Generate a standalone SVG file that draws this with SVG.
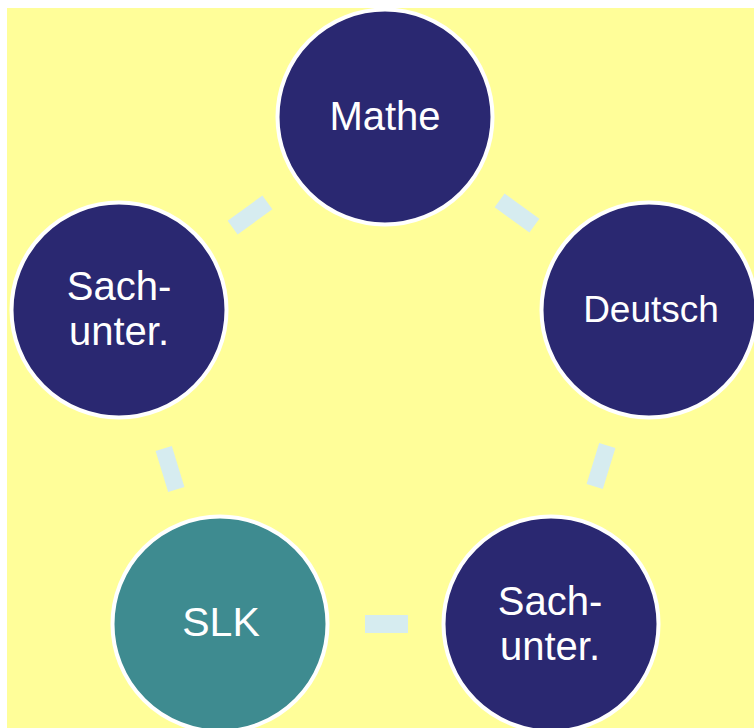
<svg xmlns="http://www.w3.org/2000/svg" width="754" height="728" viewBox="0 0 754 728">
<style>
.c{stroke:#FFFFFF;stroke-width:4}
.n{fill:#2A2871}
.t{fill:#3E8B90}
.l{fill:#FFFFFF;font-family:"Liberation Sans",Arial,sans-serif;text-anchor:middle}
.k{fill:#D6ECF0}
</style>
<rect x="0" y="0" width="754" height="728" fill="#FFFFFF"/>
<rect x="7" y="8" width="747" height="720" fill="#FFFE99"/>
<g id="connectors">
<rect class="k" x="-21.5" y="-8.5" width="43" height="17" transform="translate(250,215) rotate(-36)"/>
<rect class="k" x="-21.5" y="-8.5" width="43" height="17" transform="translate(517,213) rotate(36)"/>
<rect class="k" x="-21.5" y="-8.5" width="43" height="17" transform="translate(601,466) rotate(107)"/>
<rect class="k" x="-21.5" y="-8.5" width="43" height="17" transform="translate(170,469) rotate(73)"/>
<rect class="k" x="-21.5" y="-9" width="43" height="18" transform="translate(386.5,624)"/>
</g>
<g id="mathe">
<circle class="c n" cx="385" cy="117" r="107.5"/>
<text class="l" x="385" y="130" font-size="40">Mathe</text>
</g>
<g id="deutsch">
<circle class="c n" cx="649" cy="310" r="107.5"/>
<text class="l" x="651" y="322" font-size="37">Deutsch</text>
</g>
<g id="sachunter-bottom">
<circle class="c n" cx="551" cy="624" r="107.5"/>
<text class="l" x="550" y="615" font-size="40">Sach-</text>
<text class="l" x="550" y="660" font-size="40">unter.</text>
</g>
<g id="slk">
<circle class="c t" cx="220" cy="624" r="107.5"/>
<text class="l" x="221" y="636" font-size="41">SLK</text>
</g>
<g id="sachunter-left">
<circle class="c n" cx="119" cy="310" r="107.5"/>
<text class="l" x="119" y="300" font-size="40">Sach-</text>
<text class="l" x="119" y="345" font-size="40">unter.</text>
</g>
</svg>
